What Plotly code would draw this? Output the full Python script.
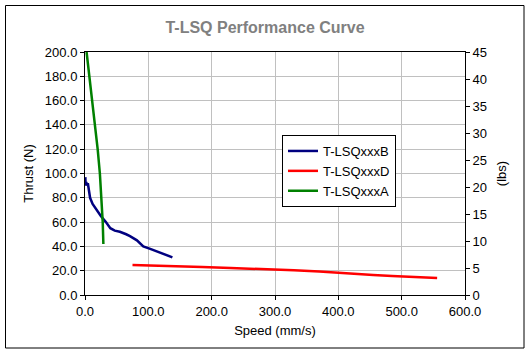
import plotly.graph_objects as go

# Series data (Speed mm/s, Thrust N)
b_speed = [0.5, 1, 2, 3, 4.5, 6, 8, 12, 18, 25, 33, 40, 47, 55, 65, 71, 82, 92, 103, 118, 129, 138]
b_thrust = [97, 90, 93, 90, 92, 86, 80, 75, 70, 65, 60, 55, 53, 52, 50, 48.5, 45, 40, 38, 35, 33, 31]

d_speed = [75, 140, 185, 230, 284, 330, 370, 397, 425, 455, 485, 513, 540, 556]
d_thrust = [24.6, 24.0, 23.0, 22.2, 21.4, 20.4, 19.3, 18.3, 17.2, 16.4, 15.6, 14.9, 14.2, 14.0]

a_speed = [2.5, 7, 11.5, 15.5, 20, 23.5, 26, 28, 29]
a_thrust = [200, 180, 160, 140, 120, 100, 80, 60, 42]

x_ticks = [0, 100, 200, 300, 400, 500, 600]
y_ticks = [0, 20, 40, 60, 80, 100, 120, 140, 160, 180, 200]
y2_ticks = [0, 5, 10, 15, 20, 25, 30, 35, 40, 45]

FONT = "Liberation Sans, Arial, sans-serif"

fig = go.Figure()
fig.add_trace(go.Scatter(x=b_speed, y=b_thrust, mode="lines", name="T-LSQxxxB",
                         line=dict(color="#000080", width=2.5)))
fig.add_trace(go.Scatter(x=d_speed, y=d_thrust, mode="lines", name="T-LSQxxxD",
                         line=dict(color="#ff0000", width=2.5)))
fig.add_trace(go.Scatter(x=a_speed, y=a_thrust, mode="lines", name="T-LSQxxxA",
                         line=dict(color="#008000", width=2.5)))

L, R, T, B = 85, 65, 52, 58
W, H = 530, 353
pw, ph = W - L - R, H - T - B

fig.update_layout(
    width=W, height=H,
    margin=dict(l=L, r=R, t=T, b=B),
    paper_bgcolor="white", plot_bgcolor="white",
    font=dict(family=FONT, size=13, color="black"),
    title=dict(text="<b>T-LSQ Performance Curve</b>", x=0.5, xanchor="center",
               y=1 - 27 / H, yanchor="middle",
               font=dict(family=FONT, size=16, color="#808080")),
    xaxis=dict(range=[0, 600], tickvals=x_ticks, ticktext=[f"{v:.1f}" for v in x_ticks],
               showgrid=True, gridcolor="#c0c0c0", gridwidth=1,
               showline=True, linecolor="black", linewidth=1, mirror=True,
               ticks="outside", ticklen=4, tickcolor="black",
               zeroline=False,
               title=dict(text="Speed (mm/s)", standoff=8, font=dict(size=13)),
               tickfont=dict(size=13)),
    yaxis=dict(range=[0, 200], tickvals=y_ticks, ticktext=[f"{v:.1f}" for v in y_ticks],
               showgrid=True, gridcolor="#c0c0c0", gridwidth=1,
               showline=True, linecolor="black", linewidth=1, mirror=True,
               ticks="outside", ticklen=4, tickcolor="black",
               zeroline=False,
               title=dict(text="Thrust (N)", standoff=8, font=dict(size=13)),
               tickfont=dict(size=13)),
    yaxis2=dict(range=[0, 45], tickvals=y2_ticks, overlaying="y", side="right",
                showgrid=False, zeroline=False,
                showline=True, linecolor="black", linewidth=1,
                ticks="outside", ticklen=4, tickcolor="black",
                title=dict(text="(lbs)", standoff=10, font=dict(size=13)),
                tickfont=dict(size=13)),
    legend=dict(x=(282 - L) / pw, y=1 - (135 - T) / ph, xanchor="left", yanchor="top",
                bgcolor="white", bordercolor="black", borderwidth=1,
                font=dict(family=FONT, size=13), tracegroupgap=0,
                itemwidth=30),
    showlegend=True,
)

# outer chart border
fig.add_shape(type="rect", xref="paper", yref="paper",
              x0=(5.5 - L) / pw, x1=(524 - L) / pw,
              y0=(H - B - 348) / ph, y1=(H - B - 5.5) / ph,
              line=dict(color="black", width=1), fillcolor="rgba(0,0,0,0)", layer="below")

# dummy trace to anchor secondary axis
fig.add_trace(go.Scatter(x=[None], y=[None], yaxis="y2", showlegend=False, hoverinfo="skip"))

fig.write_html("out.html")
